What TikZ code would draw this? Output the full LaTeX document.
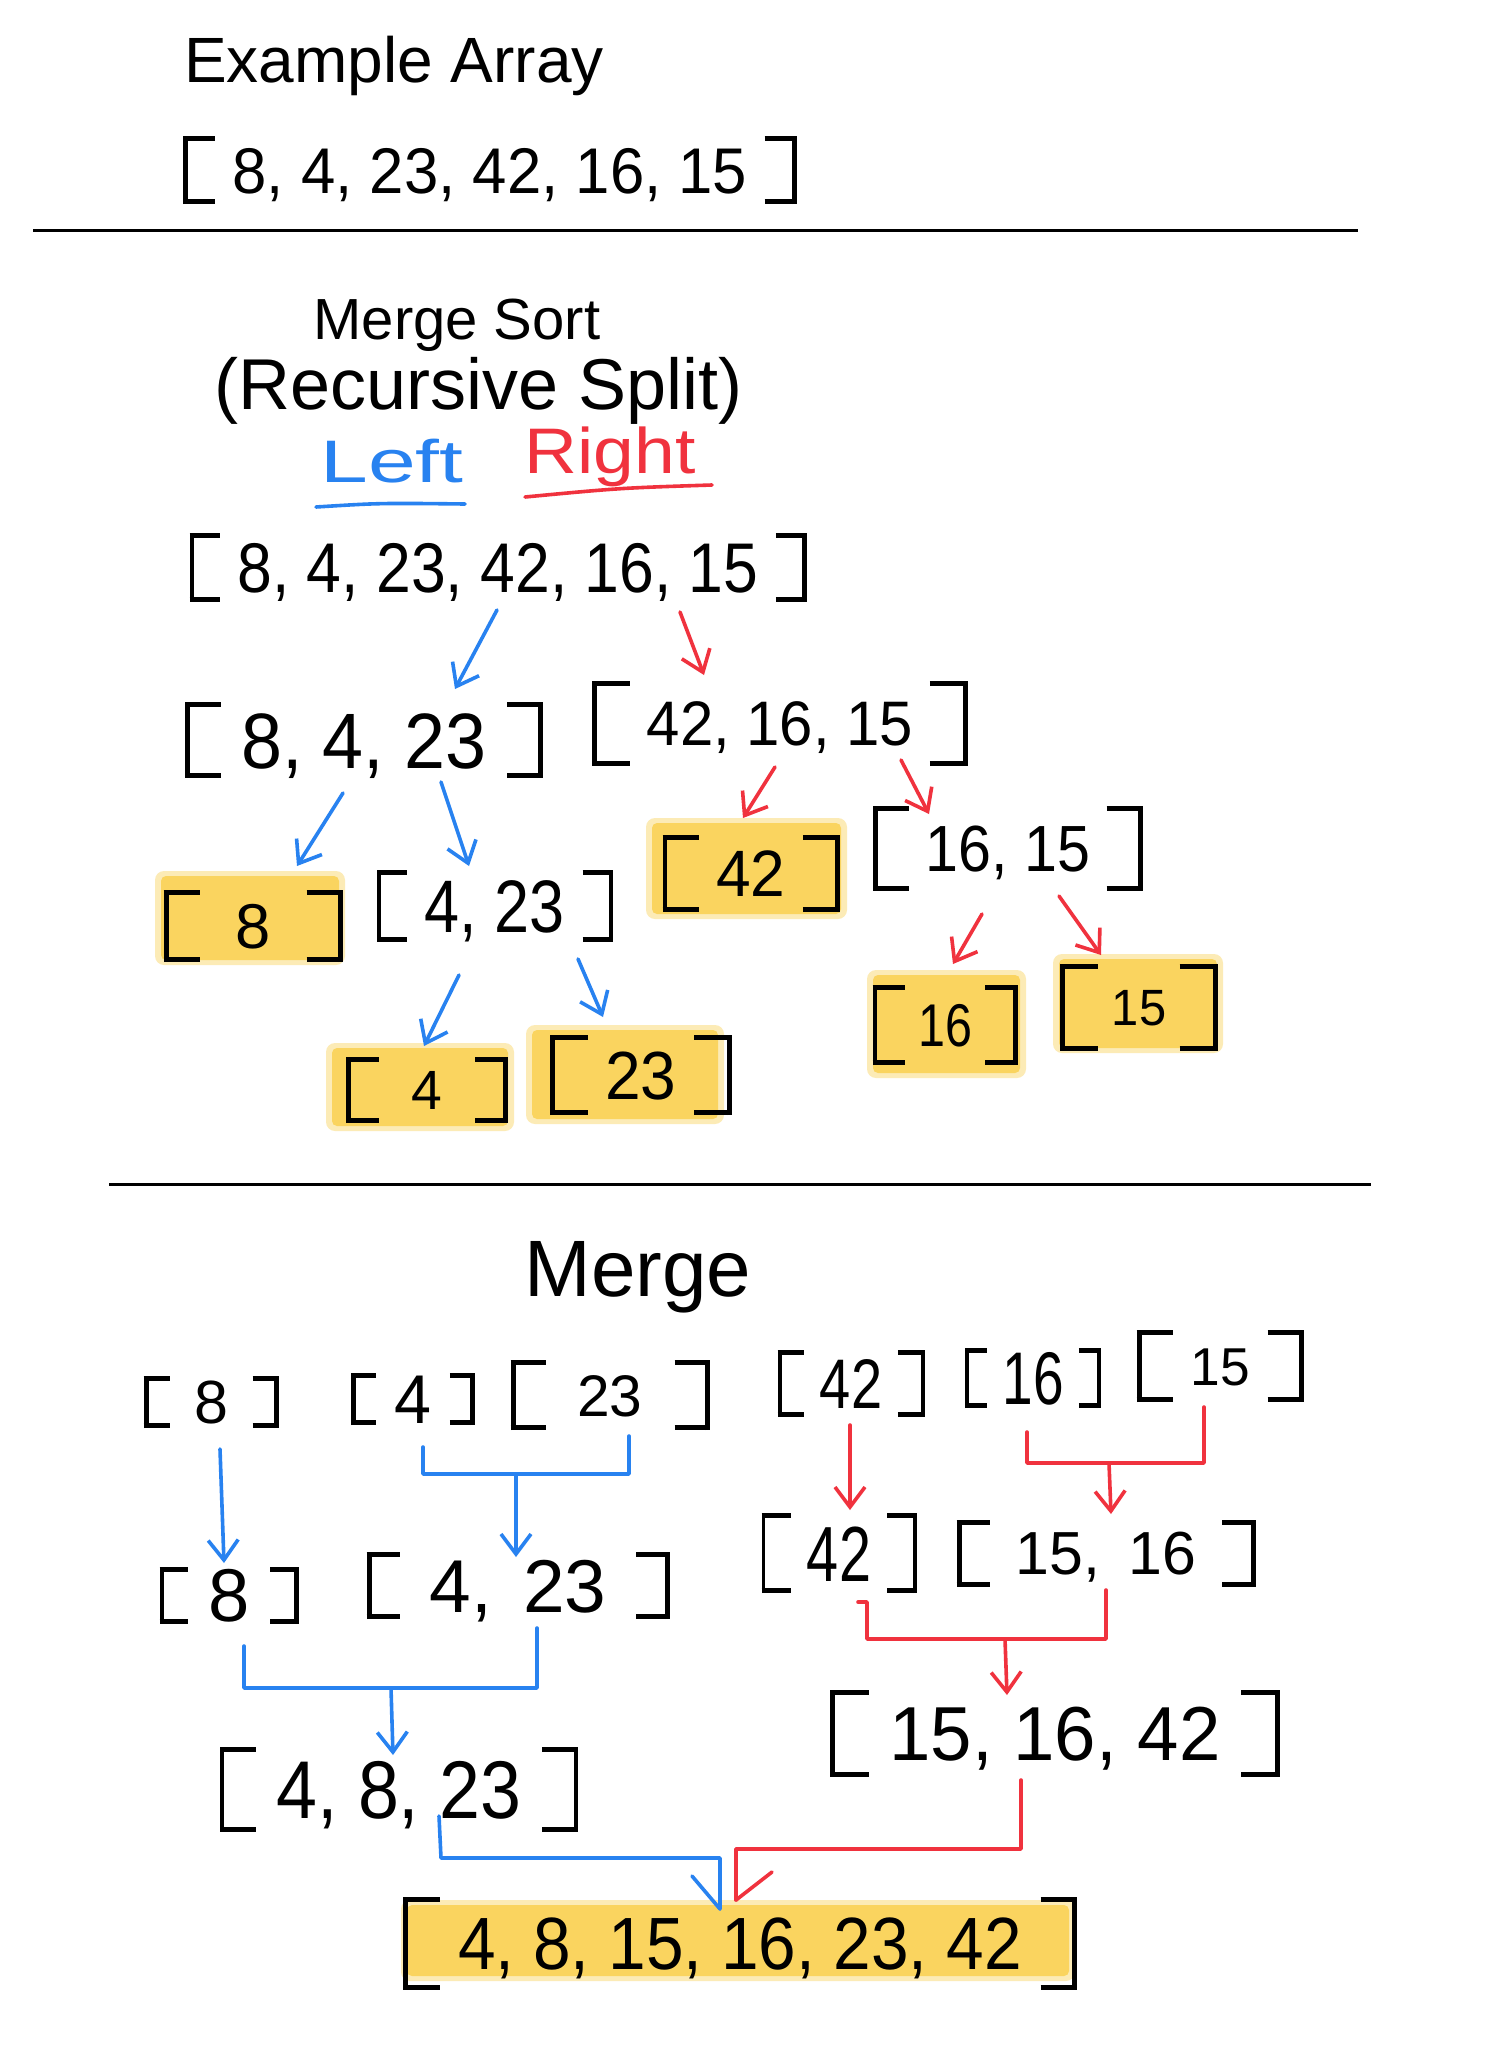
\documentclass[tikz,border=0pt]{standalone}
\usepackage{fontspec}
\setmainfont{Liberation Sans}
\usetikzlibrary{arrows.meta}
\definecolor{pblue}{RGB}{40,130,240}
\definecolor{pred}{RGB}{240,50,62}
\definecolor{hl}{RGB}{250,212,95}
\newsavebox\hwbox
\newlength\hwW
\newlength\hwA
% #1 width, #2 bracket height, #3 digit/bracket ratio, #4 content
\newcommand\hw[4]{%
  \edef\hwS{\fpeval{#2*#3/0.716}}%
  \edef\hwY{\fpeval{0.358*\hwS-#2/2}}%
  \edef\hwT{\fpeval{0.358*\hwS+#2/2-5}}%
  \edef\hwL{\fpeval{min(0.5*#2,40)}}%
  \edef\hwM{\fpeval{min(0.5*#2,40)-5}}%
  \def\LB{\makebox[\hwL pt][l]{\rlap{\rule[\hwY pt]{\hwL pt}{5pt}}\rlap{\rule[\hwT pt]{\hwL pt}{5pt}}\rule[\hwY pt]{5pt}{#2pt}}}%
  \def\RB{\makebox[\hwL pt][r]{\llap{\rule[\hwY pt]{\hwM pt}{5pt}}\llap{\rule[\hwT pt]{\hwM pt}{5pt}}\rule[\hwY pt]{5pt}{#2pt}}}%
  \setlength\hwW{#1pt}%
  \sbox\hwbox{\fontsize{\hwS}{\hwS}\selectfont #4}%
  \setlength\hwA{\wd\hwbox}%
  \ifdim\hwA>\hwW
    \scalebox{\fpeval{\hwW/\hwA}}[1]{\usebox\hwbox}%
  \else
    \makebox[\hwW][s]{\fontsize{\hwS}{\hwS}\selectfont #4}%
  \fi}
\newcommand\hlrect[4]{%
  \fill[hl,opacity=0.45,rounded corners=9pt] ({#1-6},{#2-5}) rectangle ({#3+6},{#4+5});
  \fill[hl,rounded corners=5pt] (#1,#2) rectangle (#3,#4);}
\begin{document}
\begin{tikzpicture}[x=1pt,y=-1pt,
  txt/.style={inner sep=0pt,outer sep=0pt,anchor=center},
  conn/.style={line width=3.6pt,line cap=round,line join=round},
  bl/.style={conn,draw=pblue},
  rd/.style={conn,draw=pred},
  tip/.style={-{Straight Barb[length=20pt,width=30pt]}},
  sepline/.style={line width=3pt,draw=black}]
\useasboundingbox (0,0) rectangle (1488,2058);
\fill[white] (0,0) rectangle (1488,2058);

% highlights
\hlrect{161}{876}{339}{960}
\hlrect{652}{823}{841}{914}
\hlrect{332}{1048}{508}{1126}
\hlrect{532}{1030}{718}{1119}
\hlrect{873}{975}{1020}{1073}
\hlrect{1059}{959}{1217}{1048}
\hlrect{407}{1905}{1069}{1976}

% header
\node[txt] (t1) at (394,66) {\fontsize{64}{64}\selectfont Example Array};
\node[txt] (a1) at (490,170) {\hw{614}{68}{.68}{\LB{} 8, 4, 23, 42, 16, 15 \RB}};
\draw[sepline] (33,230) -- (1358,230);

% split section
\node[txt] (ms) at (457,325) {\fontsize{58}{58}\selectfont Merge Sort};
\node[txt] (rs) at (479,391) {\fontsize{72}{72}\selectfont (Recursive Split)};
\node[txt,text=pblue] (lf) at (392,461) {\resizebox*{143pt}{44pt}{Left}};
\node[txt,text=pred] (rt) at (610,457) {\resizebox*{171pt}{60pt}{Right}};
\draw[bl] (316,507) .. controls (380,503) .. (465,504);
\draw[rd] (525,497) .. controls (620,488) .. (712,485);

\node[txt] (a2) at (498,567) {\hw{617}{69}{.73}{\LB{} 8, 4, 23, 42, 16, 15 \RB}};
\node[txt] (l1) at (364,740) {\hw{358}{76}{.74}{\LB{} 8, 4, 23 \RB}};
\node[txt] (r1) at (780,723) {\hw{376}{85}{.53}{\LB{} 42, 16, 15 \RB}};
\node[txt] (l2a) at (253,926) {\hw{179}{72}{.63}{\LB{} 8 \RB}};
\node[txt] (l2b) at (495,906) {\hw{236}{72}{.74}{\LB{} 4, 23 \RB}};
\node[txt] (r2a) at (751,873) {\hw{177}{77}{.61}{\LB{} 42 \RB}};
\node[txt] (r2b) at (1008,848) {\hw{270}{85}{.55}{\LB{} 16, 15 \RB}};
\node[txt] (l3a) at (427,1090) {\hw{162}{66}{.6}{\LB{} 4 \RB}};
\node[txt] (l3b) at (641,1075) {\hw{182}{80}{.61}{\LB{} 23 \RB}};
\node[txt] (r3a) at (945,1025) {\hw{145}{80}{.54}{\LB{} 16 \RB}};
\node[txt] (r3b) at (1139,1007) {\hw{158}{87}{.42}{\LB{} 15 \RB}};

\coordinate (s1) at (497,610);  \coordinate (e1) at (455,689);
\coordinate (s2) at (680,612);  \coordinate (e2) at (704,675);
\coordinate (s3) at (343,793);  \coordinate (e3) at (297,866);
\coordinate (s4) at (441,782);  \coordinate (e4) at (469,866);
\coordinate (s5) at (775,767);  \coordinate (e5) at (743,818);
\coordinate (s6) at (901,760);  \coordinate (e6) at (929,814);
\coordinate (s7) at (459,975);  \coordinate (e7) at (424,1046);
\coordinate (s8) at (578,959);  \coordinate (e8) at (603,1017);
\coordinate (s9) at (982,914);  \coordinate (e9) at (953,964);
\coordinate (s10) at (1059,896); \coordinate (e10) at (1101,955);
\draw[bl,tip] (s1) -- (e1);
\draw[rd,tip] (s2) -- (e2);
\draw[bl,tip] (s3) -- (e3);
\draw[bl,tip] (s4) -- (e4);
\draw[rd,tip] (s5) -- (e5);
\draw[rd,tip] (s6) -- (e6);
\draw[bl,tip] (s7) -- (e7);
\draw[bl,tip] (s8) -- (e8);
\draw[rd,tip] (s9) -- (e9);
\draw[rd,tip] (s10) -- (e10);

\draw[sepline] (109,1184) -- (1371,1184);

% merge section
\node[txt] (mg) at (638,1277) {\fontsize{80}{80}\selectfont Merge};
\node[txt] (m1a) at (211,1402) {\hw{135}{52}{.84}{\LB{} 8 \RB}};
\node[txt] (m1b) at (413,1399) {\hw{124}{52}{.95}{\LB{} 4 \RB}};
\node[txt] (m1c) at (610,1395) {\hw{199}{70}{.6}{\LB{} 23 \RB}};
\node[txt] (m1d) at (851,1383) {\hw{147}{67}{.75}{\LB{} 42 \RB}};
\node[txt] (m1e) at (1033,1378) {\hw{136}{60}{.89}{\LB{} 16 \RB}};
\node[txt] (m1f) at (1220,1366) {\hw{167}{72}{.53}{\LB{} 15 \RB}};
\node[txt] (m2a) at (229,1595) {\hw{139}{57}{.94}{\LB{} 8 \RB}};
\node[txt] (m2b) at (518,1587) {\hw{303}{67}{.8}{\LB{} 4, 23 \RB}};
\node[txt] (m2c) at (839,1553) {\hw{155}{80}{.7}{\LB{} 42 \RB}};
\node[txt] (m2d) at (1106,1553) {\hw{299}{67}{.65}{\LB{} 15, 16 \RB}};
\node[txt] (m3a) at (399,1789) {\hw{358}{85}{.69}{\LB{} 4, 8, 23 \RB}};
\node[txt] (m3b) at (1055,1733) {\hw{450}{87}{.63}{\LB{} 15, 16, 42 \RB}};
\node[txt] (fin) at (740,1943) {\hw{674}{93}{.57}{\LB{} 4, 8, 15, 16, 23, 42 \RB}};

\coordinate (p1s) at (220,1449); \coordinate (p1e) at (224,1563);
\coordinate (b1a) at (423,1447); \coordinate (b1b) at (629,1436);
\coordinate (p2s) at (516,1476); \coordinate (p2e) at (516,1557);
\coordinate (p3s) at (850,1425); \coordinate (p3e) at (850,1510);
\coordinate (b2a) at (1027,1432); \coordinate (b2b) at (1204,1407);
\coordinate (p4s) at (1109,1463); \coordinate (p4e) at (1111,1514);
\coordinate (b3a) at (244,1646); \coordinate (b3b) at (537,1628);
\coordinate (p5s) at (391,1688); \coordinate (p5e) at (393,1755);
\coordinate (b4a) at (858,1602); \coordinate (b4b) at (1106,1590);
\coordinate (p6s) at (1005,1639); \coordinate (p6e) at (1007,1695);
\coordinate (f1s) at (439,1816); \coordinate (f1e) at (720,1909);
\coordinate (f2s) at (1021,1780); \coordinate (f2e) at (736,1900);

\draw[bl,tip] (p1s) -- (p1e);
\draw[bl] (b1a) -- (423,1474) -- (629,1474) -- (b1b);
\draw[bl,tip] (p2s) -- (p2e);
\draw[rd,tip] (p3s) -- (p3e);
\draw[rd] (b2a) -- (1027,1463) -- (1204,1463) -- (b2b);
\draw[rd,tip] (p4s) -- (p4e);
\draw[bl] (b3a) -- (244,1688) -- (537,1688) -- (b3b);
\draw[bl,tip] (p5s) -- (p5e);
\draw[rd] (b4a) -- (867,1602) -- (867,1639) -- (1106,1639) -- (b4b);
\draw[rd,tip] (p6s) -- (p6e);
\draw[bl] (f1s) -- (441,1858) -- (720,1858) -- (f1e);
\draw[bl] (f1e) -- ++(-28,-33);
\draw[rd] (f2s) -- (1021,1849) -- (736,1849) -- (f2e);
\draw[rd] (f2e) -- ++(36,-28);
\end{tikzpicture}
\end{document}
